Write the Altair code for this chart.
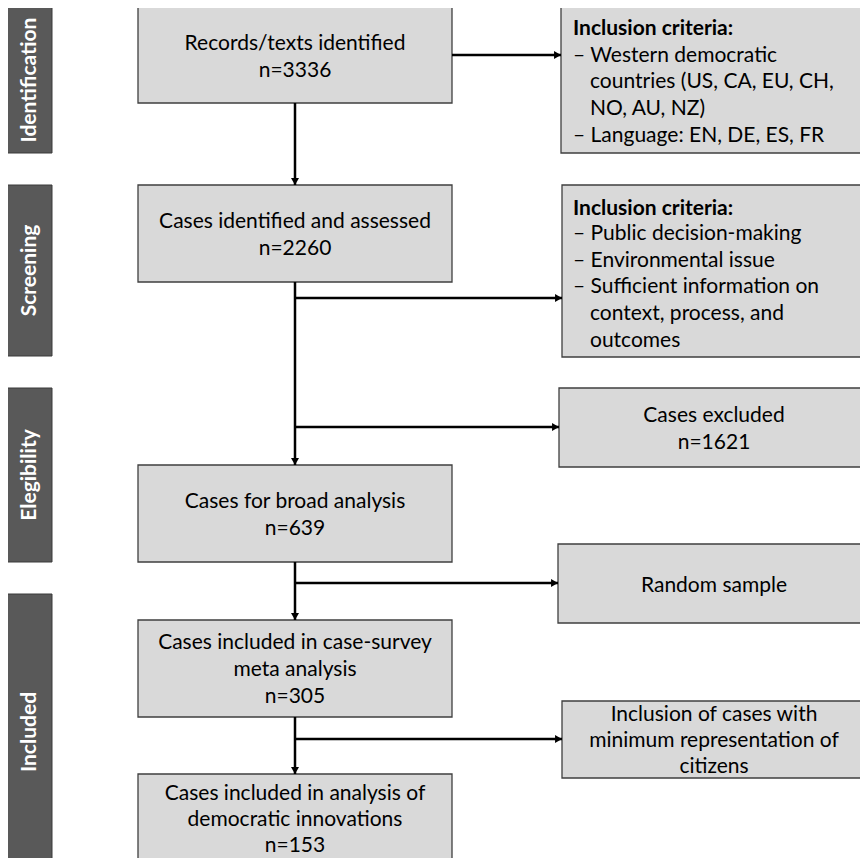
import altair as alt
import pandas as pd

# ---------------- content ----------------
stage_labels = ["Identification", "Screening", "Elegibility", "Included"]

main_lines = [
    ["Records/texts identified", "n=3336"],
    ["Cases identified and assessed", "n=2260"],
    ["Cases for broad analysis", "n=639"],
    ["Cases included in case-survey", "meta analysis", "n=305"],
    ["Cases included in analysis of", "democratic innovations", "n=153"],
]

criteria_heading = "Inclusion criteria:"
criteria_1 = ["\u2013 Western democratic", "countries (US, CA, EU, CH,", "NO, AU, NZ)",
              "\u2013 Language: EN, DE, ES, FR"]
criteria_2 = ["\u2013 Public decision-making", "\u2013 Environmental issue",
              "\u2013 Sufficient information on", "context, process, and", "outcomes"]
side_center_lines = [
    ["Cases excluded", "n=1621"],
    ["Random sample"],
    ["Inclusion of cases with", "minimum representation of", "citizens"],
]

# ---------------- layout (pixel coordinates of the figure; text y = baseline) ----------------
BAR_X = (7, 52)
stage_y = [(7, 153), (185, 356), (388, 562), (594, 866)]
MAIN_X = (138, 452)
main_y = [(7, 103), (185, 282), (465, 562), (620, 717), (774, 866)]
main_text_y = [[50, 77], [228, 255], [508, 535], [649, 676, 703], [800, 826, 852]]
RIGHT = 866
side_boxes = [(561, 7, 153), (562, 185, 357), (559, 388, 467), (558, 544, 623), (562, 701, 778)]
crit1_y = [35, 62, 88, 115, 142]
crit2_y = [215, 240, 267, 293, 320, 347]
side_center_y = [[422, 449], [592], [721, 747, 773]]
SIDE_CX = 714
CX = 295
H_ARROWS = [(452, 561, 55), (CX, 562, 298), (CX, 559, 427), (CX, 558, 583), (CX, 562, 739)]
V_LINES = [(103, 185), (282, 465), (562, 620), (717, 774)]

FONT = "Lato"
FS = 21

xs = alt.Scale(domain=[8, 860], nice=False, zero=False)
ys = alt.Scale(domain=[8, 858], nice=False, zero=False, reverse=True)

# ---- tables ----
bars = pd.DataFrame([{"x": BAR_X[0], "x2": BAR_X[1], "y": a, "y2": b, "label": l,
                      "cy": (a + min(b, 858)) / 2 if l != "Included" else 732}
                     for (a, b), l in zip(stage_y, stage_labels)])
boxes = pd.DataFrame([{"x": MAIN_X[0], "x2": MAIN_X[1], "y": a, "y2": b} for a, b in main_y] +
                     [{"x": l, "x2": RIGHT, "y": a, "y2": b} for l, a, b in side_boxes])

main_txt = pd.DataFrame([{"x": CX, "y": yy, "t": t}
                         for lines, ypos in zip(main_lines, main_text_y)
                         for t, yy in zip(lines, ypos)] +
                        [{"x": SIDE_CX, "y": yy, "t": t}
                         for lines, ypos in zip(side_center_lines, side_center_y)
                         for t, yy in zip(lines, ypos)])

crit_rows = []
for lines, ypos in ((criteria_1, crit1_y[1:]), (criteria_2, crit2_y[1:])):
    for t, yy in zip(lines, ypos):
        crit_rows.append({"x": 573 if t.startswith("\u2013") else 590, "y": yy, "t": t})
crit_txt = pd.DataFrame(crit_rows)
crit_head = pd.DataFrame([{"x": 573, "y": crit1_y[0], "t": criteria_heading},
                          {"x": 573, "y": crit2_y[0], "t": criteria_heading}])

segs = pd.DataFrame([{"x": CX, "x2": CX, "y": a, "y2": b} for a, b in V_LINES] +
                    [{"x": a, "x2": b, "y": y, "y2": y} for a, b, y in H_ARROWS])
heads_down = pd.DataFrame([{"x": CX, "y": b - 3.5} for a, b in V_LINES])
heads_right = pd.DataFrame([{"x": b - 3.5, "y": y} for a, b, y in H_ARROWS])

X = lambda f="x": alt.X(f"{f}:Q", scale=xs, axis=None)
Y = lambda f="y": alt.Y(f"{f}:Q", scale=ys, axis=None)

bar_layer = alt.Chart(bars).mark_rect(color="#595959", stroke="#3a3a3a", strokeWidth=1).encode(
    x=X(), x2="x2:Q", y=Y(), y2="y2:Q")
bar_text = alt.Chart(bars).mark_text(angle=270, font=FONT, fontSize=FS, fontWeight="bold",
                                     color="white", baseline="middle", align="center").encode(
    x=alt.X("xc:Q", scale=xs, axis=None), y=alt.Y("cy:Q", scale=ys, axis=None), text="label:N"
).transform_calculate(xc="(datum.x + datum.x2) / 2")
box_layer = alt.Chart(boxes).mark_rect(color="#d9d9d9", stroke="#3f3f3f", strokeWidth=1.3).encode(
    x=X(), x2="x2:Q", y=Y(), y2="y2:Q")
seg_layer = alt.Chart(segs).mark_rule(color="black", strokeWidth=2.5).encode(
    x=X(), x2="x2:Q", y=Y(), y2="y2:Q")
hd = alt.Chart(heads_down).mark_point(shape="triangle-down", filled=True, color="black",
                                      size=64, opacity=1).encode(x=X(), y=Y())
hr = alt.Chart(heads_right).mark_point(shape="triangle-right", filled=True, color="black",
                                       size=64, opacity=1).encode(x=X(), y=Y())
mt = alt.Chart(main_txt).mark_text(font=FONT, fontSize=FS, color="black", align="center",
                                   baseline="alphabetic").encode(x=X(), y=Y(), text="t:N")
ct = alt.Chart(crit_txt).mark_text(font=FONT, fontSize=FS, color="black", align="left",
                                   baseline="alphabetic").encode(x=X(), y=Y(), text="t:N")
ch = alt.Chart(crit_head).mark_text(font=FONT, fontSize=FS, fontWeight="bold", color="black",
                                    align="left", baseline="alphabetic").encode(x=X(), y=Y(), text="t:N")

chart = alt.layer(bar_layer, box_layer, seg_layer, hd, hr, bar_text, mt, ct, ch).properties(
    width=852, height=850, padding=0, autosize=alt.AutoSizeParams(type="none")
).configure_view(stroke=None)

chart.save("out.html", embed_options={"renderer": "svg", "actions": False})
